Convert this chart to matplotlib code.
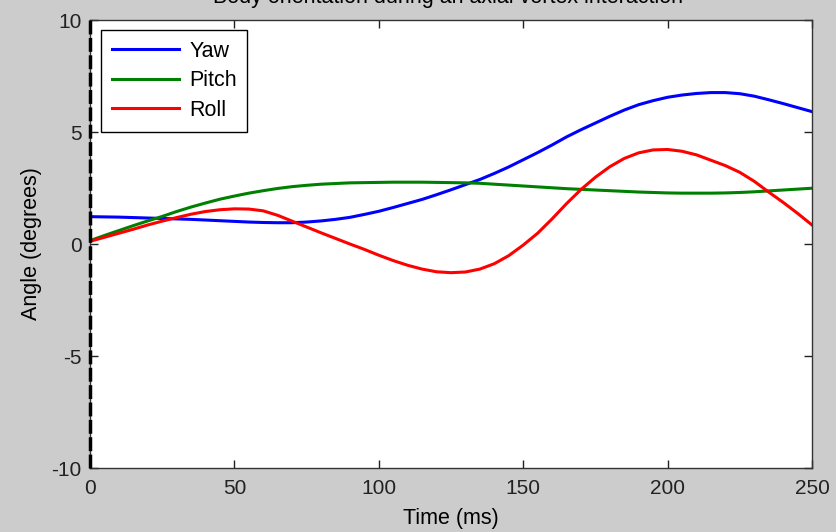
import numpy as np
import matplotlib
matplotlib.use("Agg")
import matplotlib.pyplot as plt

# time samples (ms) and body angles (degrees)
time_ms = np.arange(0, 255, 5)

yaw = [1.22, 1.21, 1.20, 1.18, 1.16, 1.14, 1.12, 1.10, 1.07, 1.04,
       1.01, 0.98, 0.96, 0.95, 0.95, 0.98, 1.03, 1.10, 1.19, 1.32,
       1.46, 1.63, 1.81, 1.99, 2.20, 2.42, 2.65, 2.88, 3.15, 3.44,
       3.76, 4.08, 4.42, 4.78, 5.10, 5.40, 5.70, 5.98, 6.22, 6.40,
       6.55, 6.65, 6.72, 6.76, 6.76, 6.71, 6.60, 6.44, 6.27, 6.09,
       5.91]

pitch = [0.15, 0.38, 0.60, 0.82, 1.03, 1.23, 1.45, 1.65, 1.83, 2.00,
         2.14, 2.27, 2.38, 2.48, 2.56, 2.62, 2.67, 2.70, 2.73, 2.74,
         2.75, 2.76, 2.76, 2.76, 2.75, 2.74, 2.73, 2.71, 2.67, 2.63,
         2.59, 2.55, 2.51, 2.47, 2.44, 2.41, 2.38, 2.35, 2.32, 2.30,
         2.28, 2.27, 2.27, 2.27, 2.28, 2.30, 2.33, 2.37, 2.41, 2.45,
         2.49]

roll = [0.12, 0.30, 0.48, 0.66, 0.85, 1.02, 1.18, 1.33, 1.45, 1.53,
        1.57, 1.56, 1.48, 1.28, 1.02, 0.76, 0.50, 0.25, 0.00, -0.24,
        -0.50, -0.74, -0.95, -1.12, -1.24, -1.28, -1.25, -1.12, -0.88, -0.52,
        -0.05, 0.48, 1.12, 1.80, 2.43, 2.98, 3.45, 3.82, 4.07, 4.20,
        4.22, 4.14, 3.98, 3.74, 3.50, 3.20, 2.80, 2.32, 1.86, 1.37,
        0.85]

x_ticks = [0, 50, 100, 150, 200, 250]
y_ticks = [-10, -5, 0, 5, 10]

plt.rcParams["font.family"] = ["Liberation Sans", "DejaVu Sans"]
plt.rcParams["font.size"] = 15
plt.rcParams["axes.unicode_minus"] = False

fig = plt.figure(figsize=(8.37, 5.32), dpi=100, facecolor="#cccccc")
ax = fig.add_axes([0.1075, 0.1203, 0.8626, 0.8421])
ax.set_facecolor("white")

ax.plot(time_ms, yaw, color="#0000ff", lw=2.2, label="Yaw")
ax.plot(time_ms, pitch, color="#008000", lw=2.2, label="Pitch")
ax.plot(time_ms, roll, color="#ff0000", lw=2.2, label="Roll")

# dashed marker at t = 0
ax.axvline(0, color="black", lw=2.5, dashes=(4, 1), clip_on=False, zorder=5)

ax.set_xlim(0, 250)
ax.set_ylim(-10, 10)
ax.set_xticks(x_ticks)
ax.set_yticks(y_ticks)
ax.tick_params(direction="in", length=6, width=1, top=True, right=True,
               colors="#222222", labelsize=15)
ax.tick_params(axis="x", pad=8)
ax.tick_params(axis="y", pad=6)
for s in ax.spines.values():
    s.set_color("#333333")
    s.set_linewidth(1)

ax.set_xlabel("Time (ms)", fontsize=15.5, labelpad=7)
ax.set_ylabel("Angle (degrees)", fontsize=15.5, labelpad=7)

fig.text(0.535, 0.9944, "Body orientation during an axial vortex interaction",
         ha="center", va="baseline", fontsize=15.5)

leg = ax.legend(loc="upper left", bbox_to_anchor=(0.015, 0.978), borderaxespad=0,
                handlelength=3.15, handletextpad=0.45, labelspacing=0.4,
                borderpad=0.5, fancybox=False, framealpha=1, edgecolor="black",
                fontsize=15.5)
leg.get_frame().set_linewidth(1)

fig.savefig("out.png", dpi=100, facecolor=fig.get_facecolor())
